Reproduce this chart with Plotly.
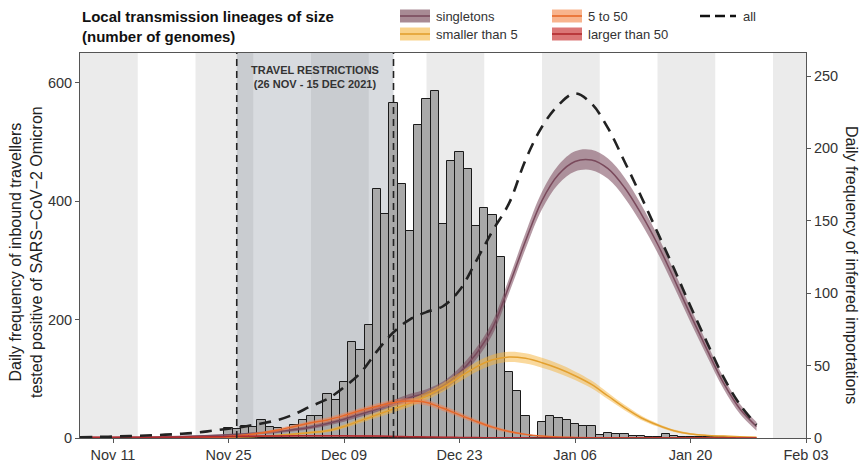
import pandas as pd
import plotly.graph_objects as go

# ---------------- data ----------------
bar_start = "2021-11-25"
bar_values = [17, 15, 21, 18, 31, 18,
              17, 12, 22, 30, 37, 37, 75, 64, 95, 162, 149, 191, 421, 379, 566, 430, 349, 529, 573, 587,
              362, 468, 484, 455, 358, 388, 376, 306, 111, 80, 38,
              3, 27, 37, 34, 31, 23, 20, 20, 5, 9, 6, 6, 4, 3, 2, 2, 7, 3, 2, 1, 2, 1, 1, 1, 1]
bar_dates = pd.date_range(bar_start, periods=len(bar_values), freq="D")

curve_dates = pd.date_range("2021-11-07", "2022-01-28", freq="2D")
singletons = [0.3, 0.3, 0.4, 0.5, 0.6, 0.8, 1.0, 1.3, 1.7, 2.2, 2.8, 3.5,
              4.5, 5.8, 7.5, 10, 13, 16.5, 20, 24, 28, 31, 36, 45, 58, 76, 105, 136,
              164, 182, 191, 192, 186, 173, 155, 134, 110, 85, 61, 38, 20, 8]
singletons_ci = [0.2, 0.2, 0.2, 0.2, 0.3, 0.3, 0.3, 0.4, 0.5, 0.6, 0.7, 0.8,
                 1, 1.1, 1.3, 1.5, 1.7, 1.9, 2.1, 2.3, 2.5, 2.7, 3, 3.5, 4, 4.5, 5, 5.5,
                 6, 6.5, 7, 7, 7, 7, 6.5, 6, 5.5, 5, 4.5, 4, 3.5, 3]
smaller5 = [0, 0, 0, 0, 0, 0.1, 0.1, 0.2, 0.3, 0.5, 0.8, 1.2,
            1.8, 2.7, 3.8, 5, 8, 12, 16, 20, 24, 29, 35, 42, 49, 54, 56, 55,
            52, 48, 43, 37, 29, 21, 14, 9, 5, 2.8, 1.8, 1.3, 0.8, 0.5]
smaller5_ci = [0.1, 0.1, 0.1, 0.1, 0.1, 0.1, 0.1, 0.2, 0.2, 0.3, 0.4, 0.5,
               0.6, 0.7, 0.9, 1.1, 1.3, 1.6, 1.9, 2.2, 2.5, 2.8, 3, 3.2, 3.4, 3.5, 3.5, 3.5,
               3.4, 3.2, 3, 2.7, 2.3, 1.9, 1.5, 1.1, 0.8, 0.6, 0.4, 0.3, 0.2, 0.2]
five_to_50 = [0.1, 0.1, 0.1, 0.1, 0.2, 0.2, 0.2, 0.3, 0.5, 1, 2, 3.5,
              5.5, 8, 10.5, 12.5, 15.5, 19, 22, 24.5, 25.5, 24.5, 20.5, 16, 11.5, 7.5, 4.5, 2.5,
              1.3, 0.7, 0.4, 0.2, 0.1, 0.1, 0, 0, 0, 0, 0, 0, 0, 0]
five_to_50_ci = [0.1, 0.1, 0.1, 0.1, 0.1, 0.1, 0.1, 0.2, 0.3, 0.5, 0.7, 0.9,
                 1.1, 1.3, 1.5, 1.6, 1.7, 1.8, 1.9, 2, 2, 2, 1.9, 1.7, 1.5, 1.2, 0.9, 0.6,
                 0.4, 0.3, 0.2, 0.1, 0.1, 0.1, 0, 0, 0, 0, 0, 0, 0, 0]
larger50 = [0.5, 0.5, 0.5, 0.5, 0.5, 0.5, 0.6, 0.7, 0.8, 1, 1.2, 1.3,
            1.4, 1.5, 1.5, 1.5, 1.5, 1.4, 1.3, 1.1, 0.9, 0.7, 0.5, 0.4, 0.3, 0.2, 0.1, 0.1,
            0, 0, 0, 0, 0, 0, 0, 0, 0, 0, 0, 0, 0, 0]
larger50_ci = [0.4, 0.4, 0.4, 0.4, 0.4, 0.4, 0.4, 0.5, 0.5, 0.6, 0.6, 0.6,
               0.6, 0.6, 0.6, 0.6, 0.6, 0.6, 0.5, 0.5, 0.4, 0.4, 0.3, 0.3, 0.2, 0.2, 0.1, 0.1,
               0, 0, 0, 0, 0, 0, 0, 0, 0, 0, 0, 0, 0, 0]
all_lineages = [0.5, 0.7, 1, 1.3, 1.7, 2.2, 2.8, 3.6, 5, 6.5, 8, 10,
                12.5, 16.5, 22, 27, 35, 45, 60, 73, 82, 87, 91, 102, 122, 143, 162, 192,
                215, 230, 238, 231, 214, 191, 167, 142, 117, 91, 66, 42, 23, 9]

x_ticks = ["2021-11-11", "2021-11-25", "2021-12-09", "2021-12-23", "2022-01-06", "2022-01-20", "2022-02-03"]
grey_weeks = [("2021-11-07", "2021-11-14"), ("2021-11-21", "2021-11-28"), ("2021-12-05", "2021-12-12"),
              ("2021-12-19", "2021-12-26"), ("2022-01-02", "2022-01-09"), ("2022-01-16", "2022-01-23"),
              ("2022-01-30", "2022-02-03")]
restriction = ("2021-11-26", "2021-12-15")
x_range = ["2021-11-07", "2022-02-03"]

series = [
    ("singletons", singletons, singletons_ci, "#7A4A5C", "rgba(120,70,90,0.55)"),
    ("smaller than 5", smaller5, smaller5_ci, "#E3A02F", "rgba(245,180,60,0.5)"),
    ("5 to 50", five_to_50, five_to_50_ci, "#E8692A", "rgba(245,130,80,0.5)"),
    ("larger than 50", larger50, larger50_ci, "#B22A2E", "rgba(200,60,60,0.5)"),
]

FONT = "Liberation Sans, Arial, Helvetica, sans-serif"

# pixel helpers for layout placement (plot area 80..806 x 53..438)
L, R, T, B = 80, 806, 53, 438
def px(x):
    return (x - L) / (R - L)
def py(y):
    return (B - y) / (B - T)

fig = go.Figure()

fig.add_trace(go.Bar(x=bar_dates, y=bar_values, marker=dict(color="#A9A9A9", line=dict(color="#1a1a1a", width=1)),
                     yaxis="y", showlegend=False, hoverinfo="x+y"))

for name, vals, ci, lc, fc in series:
    lo = [max(v - c, 0) for v, c in zip(vals, ci)]
    hi = [v + c for v, c in zip(vals, ci)]
    fig.add_trace(go.Scatter(x=curve_dates, y=lo, yaxis="y2", mode="lines", line=dict(width=0, shape="spline"),
                             showlegend=False, hoverinfo="skip"))
    fig.add_trace(go.Scatter(x=curve_dates, y=hi, yaxis="y2", mode="lines", line=dict(width=0, shape="spline"),
                             fill="tonexty", fillcolor=fc, showlegend=False, hoverinfo="skip"))
    fig.add_trace(go.Scatter(x=curve_dates, y=vals, yaxis="y2", mode="lines", name=name,
                             line=dict(color=lc, width=1.5, shape="spline"), showlegend=False))

fig.add_trace(go.Scatter(x=curve_dates, y=all_lineages, yaxis="y2", mode="lines", name="all",
                         line=dict(color="#222222", width=2.6, dash="12px,8px", shape="spline"), showlegend=False))

shapes = []
for a, b in grey_weeks:
    shapes.append(dict(type="rect", xref="x", yref="paper", x0=a, x1=b, y0=0, y1=1,
                       fillcolor="#EBEBEB", line=dict(width=0), layer="below"))
shapes.append(dict(type="rect", xref="x", yref="paper", x0=restriction[0], x1=restriction[1], y0=0, y1=1,
                   fillcolor="rgba(110,122,138,0.27)", line=dict(width=0), layer="below"))
for d in restriction:
    shapes.append(dict(type="line", xref="x", yref="paper", x0=d, x1=d, y0=0, y1=1,
                       line=dict(color="#222222", width=1.6, dash="7px,5px"), layer="above"))

# manual legend
legend_items = [
    ("singletons", 400, 16, "#7A4A5C", "#A88A94"),
    ("smaller than 5", 400, 34, "#E3A02F", "#F9D28A"),
    ("5 to 50", 552, 16, "#E8692A", "#F8B48E"),
    ("larger than 50", 552, 34, "#B22A2E", "#DB7676"),
]
annotations = []
for name, x0, yc, lc, fc in legend_items:
    shapes.append(dict(type="rect", xref="paper", yref="paper", x0=px(x0), x1=px(x0 + 30),
                       y0=py(yc + 6.5), y1=py(yc - 6.5), fillcolor=fc, line=dict(width=0)))
    shapes.append(dict(type="line", xref="paper", yref="paper", x0=px(x0), x1=px(x0 + 30),
                       y0=py(yc), y1=py(yc), line=dict(color=lc, width=1.6)))
    annotations.append(dict(xref="paper", yref="paper", x=px(x0 + 34), y=py(yc), text=name, showarrow=False,
                            xanchor="left", yanchor="middle", font=dict(size=13, color="#333333", family=FONT)))
shapes.append(dict(type="line", xref="paper", yref="paper", x0=px(700), x1=px(736), y0=py(16), y1=py(16),
                   line=dict(color="#111111", width=2.6, dash="10px,5px")))
annotations.append(dict(xref="paper", yref="paper", x=px(741), y=py(16), text="all", showarrow=False,
                        xanchor="left", yanchor="middle", font=dict(size=13, color="#333333", family=FONT)))

annotations.append(dict(xref="paper", yref="paper", x=px(80), y=py(26), showarrow=False, xanchor="left",
                        yanchor="middle", align="left",
                        text="<b>Local transmission lineages of size<br>(number of genomes)</b>",
                        font=dict(size=15, color="#111111", family=FONT)))
annotations.append(dict(xref="x", yref="paper", x="2021-12-05 12:00", y=py(77.5), showarrow=False,
                        xanchor="center", yanchor="middle", align="center",
                        text="<b>TRAVEL RESTRICTIONS<br>(26 NOV - 15 DEC 2021)</b>",
                        font=dict(size=11, color="#333333", family=FONT)))
annotations.append(dict(xref="paper", yref="paper", x=px(26), y=py(252), showarrow=False, textangle=-90,
                        xanchor="center", yanchor="middle", align="center",
                        text="Daily frequency of inbound travellers<br>tested positive of SARS\u2212CoV\u22122 Omicron",
                        font=dict(size=16, color="#222222", family=FONT)))
annotations.append(dict(xref="paper", yref="paper", x=px(852), y=py(265), showarrow=False, textangle=90,
                        xanchor="center", yanchor="middle",
                        text="Daily frequency of inferred importations",
                        font=dict(size=16, color="#222222", family=FONT)))

fig.update_layout(
    width=861, height=468,
    margin=dict(l=L, r=861 - R, t=T, b=468 - B, autoexpand=False),
    plot_bgcolor="white", paper_bgcolor="white",
    bargap=0,
    font=dict(family=FONT, size=14, color="#333333"),
    shapes=shapes, annotations=annotations,
    xaxis=dict(type="date", range=x_range, tickvals=x_ticks, tickformat="%b %d", showgrid=False,
               showline=True, linecolor="#555555", linewidth=1, mirror=True, ticks="outside", ticklen=4,
               tickcolor="#555555", tickfont=dict(size=14.5, color="#333333"), zeroline=False, automargin=False),
    yaxis=dict(range=[0, 650.5], tickvals=[0, 200, 400, 600], showgrid=False, zeroline=False,
               showline=True, linecolor="#555555", linewidth=1, ticks="outside", ticklen=4,
               tickcolor="#555555", tickfont=dict(size=14.5, color="#333333"), automargin=False),
    yaxis2=dict(range=[0, 265.9], tickvals=[0, 50, 100, 150, 200, 250], overlaying="y", side="right",
                showgrid=False, zeroline=False, showline=True, linecolor="#555555", linewidth=1,
                ticks="outside", ticklen=4, tickcolor="#555555", tickfont=dict(size=14.5, color="#333333"),
                automargin=False),
)

fig.write_html("out.html")
